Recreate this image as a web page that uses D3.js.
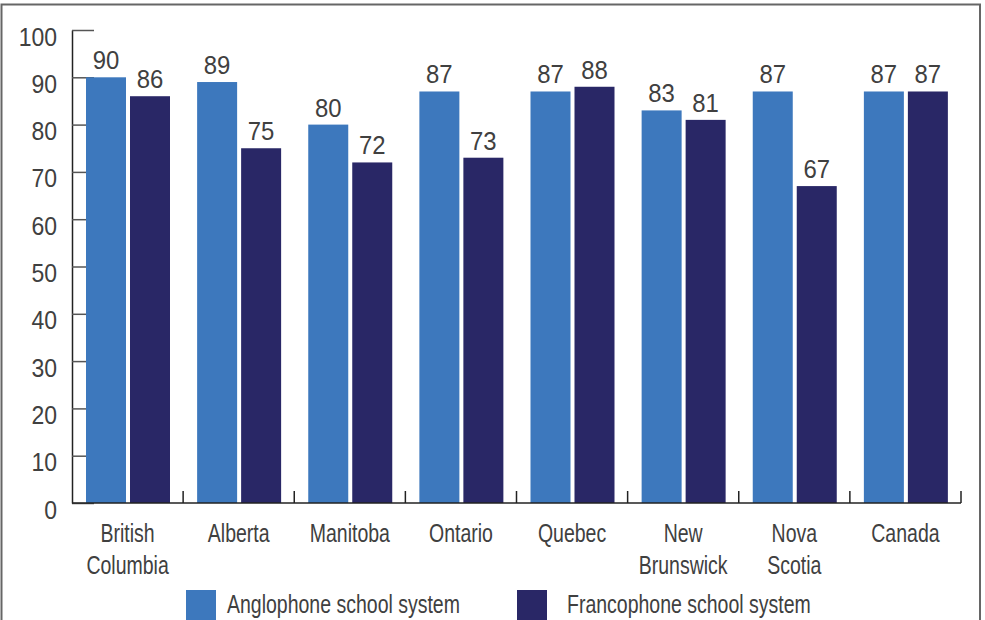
<!DOCTYPE html>
<html>
<head>
<meta charset="utf-8">
<script src="https://cdn.jsdelivr.net/npm/d3@7"></script>
<style>
  html, body { margin: 0; padding: 0; background: #fff; }
  svg { display: block; }
  text { font-family: "Liberation Sans", Arial, sans-serif; fill: #404040; }
</style>
</head>
<body>
<svg id="chart" width="985" height="620"></svg>
<script>
const categories = [["British", "Columbia"], ["Alberta"], ["Manitoba"], ["Ontario"], ["Quebec"], ["New", "Brunswick"], ["Nova", "Scotia"], ["Canada"]];
const seriesNames = ["Anglophone school system", "Francophone school system"];
const anglophone = [90, 89, 80, 87, 87, 83, 87, 87];
const francophone = [86, 75, 72, 73, 88, 81, 67, 87];
const yTicks = [0, 10, 20, 30, 40, 50, 60, 70, 80, 90, 100];
const colors = ["#3d78bd", "#292766"];

const NUM_SX = 0.92, WORD_SX = 0.75;
const svg = d3.select("#chart");

// frame
svg.append("path")
  .attr("d", "M1.5,620 V4.5 H980 V620")
  .attr("fill", "none").attr("stroke", "#666").attr("stroke-width", 2);

const catKeys = categories.map(c => c.join(" "));
const x0 = d3.scaleBand().domain(catKeys).range([72, 961]).padding(0);
const x1 = d3.scaleBand().domain(seriesNames).range([14, 98]).paddingInner(4 / 44);
const y = d3.scaleLinear().domain([0, 100]).range([503, 30]);

// y axis (ticks point inward, behind bars)
const yAxis = d3.axisLeft(y).tickValues(yTicks).tickSizeInner(-22).tickSizeOuter(0).tickPadding(15);
const yg = svg.append("g").attr("transform", "translate(72,0)").call(yAxis);
yg.select(".domain").attr("stroke", "#222").attr("stroke-width", 1.5);
yg.selectAll(".tick line").attr("stroke", "#555").attr("stroke-width", 1.5);
yg.selectAll(".tick text")
  .attr("x", null).attr("dy", null)
  .attr("transform", `translate(-15,15) scale(${NUM_SX},1)`)
  .attr("font-size", 25)
  .style("font-family", '"Liberation Sans", Arial, sans-serif').attr("fill", "#404040");

// bars
const data = catKeys.map((k, i) => ({ key: k, values: [anglophone[i], francophone[i]] }));
const groups = svg.append("g").selectAll("g").data(data).join("g")
  .attr("transform", d => `translate(${x0(d.key)},0)`);
groups.selectAll("rect").data(d => d.values.map((v, j) => ({ s: seriesNames[j], v, j })))
  .join("rect")
  .attr("x", d => x1(d.s)).attr("width", x1.bandwidth())
  .attr("y", d => y(d.v)).attr("height", d => y(0) - y(d.v))
  .attr("fill", d => colors[d.j]);
groups.selectAll("text.val").data(d => d.values.map((v, j) => ({ s: seriesNames[j], v, j })))
  .join("text").attr("class", "val")
  .attr("transform", d => `translate(${x1(d.s) + x1.bandwidth() / 2},${y(d.v) - 8}) scale(${NUM_SX},1)`)
  .attr("text-anchor", "middle").attr("font-size", 26)
  .text(d => d.v);

// x axis
const xg = svg.append("g");
xg.append("line").attr("x1", x0.range()[0]).attr("x2", x0.range()[1])
  .attr("y1", y(0)).attr("y2", y(0)).attr("stroke", "#222").attr("stroke-width", 1.5);
xg.selectAll("line.tk").data(catKeys).join("line").attr("class", "tk")
  .attr("x1", d => x0(d) + x0.bandwidth()).attr("x2", d => x0(d) + x0.bandwidth())
  .attr("y1", y(0)).attr("y2", y(0) - 12).attr("stroke", "#222").attr("stroke-width", 1.5);
const xl = xg.selectAll("text.cat").data(categories).join("text").attr("class", "cat")
  .attr("text-anchor", "middle").attr("font-size", 26)
  .attr("transform", (d, i) => `translate(${x0(catKeys[i]) + x0.bandwidth() / 2},${y(0) + 39}) scale(${WORD_SX},1)`);
xl.selectAll("tspan").data(d => d).join("tspan")
  .attr("x", 0).attr("dy", (d, i) => i === 0 ? 0 : 32).text(d => d);

// legend
const legendX = [186, 517];
const legendTextDx = [41, 50];
const lg = svg.append("g").selectAll("g").data(seriesNames).join("g")
  .attr("transform", (d, i) => `translate(${legendX[i]},590)`);
lg.append("rect").attr("width", 30).attr("height", 30).attr("fill", (d, i) => colors[i]);
lg.append("text")
  .attr("transform", (d, i) => `translate(${legendTextDx[i]},23) scale(${WORD_SX},1)`)
  .attr("font-size", 26).text(d => d);
</script>
</body>
</html>
